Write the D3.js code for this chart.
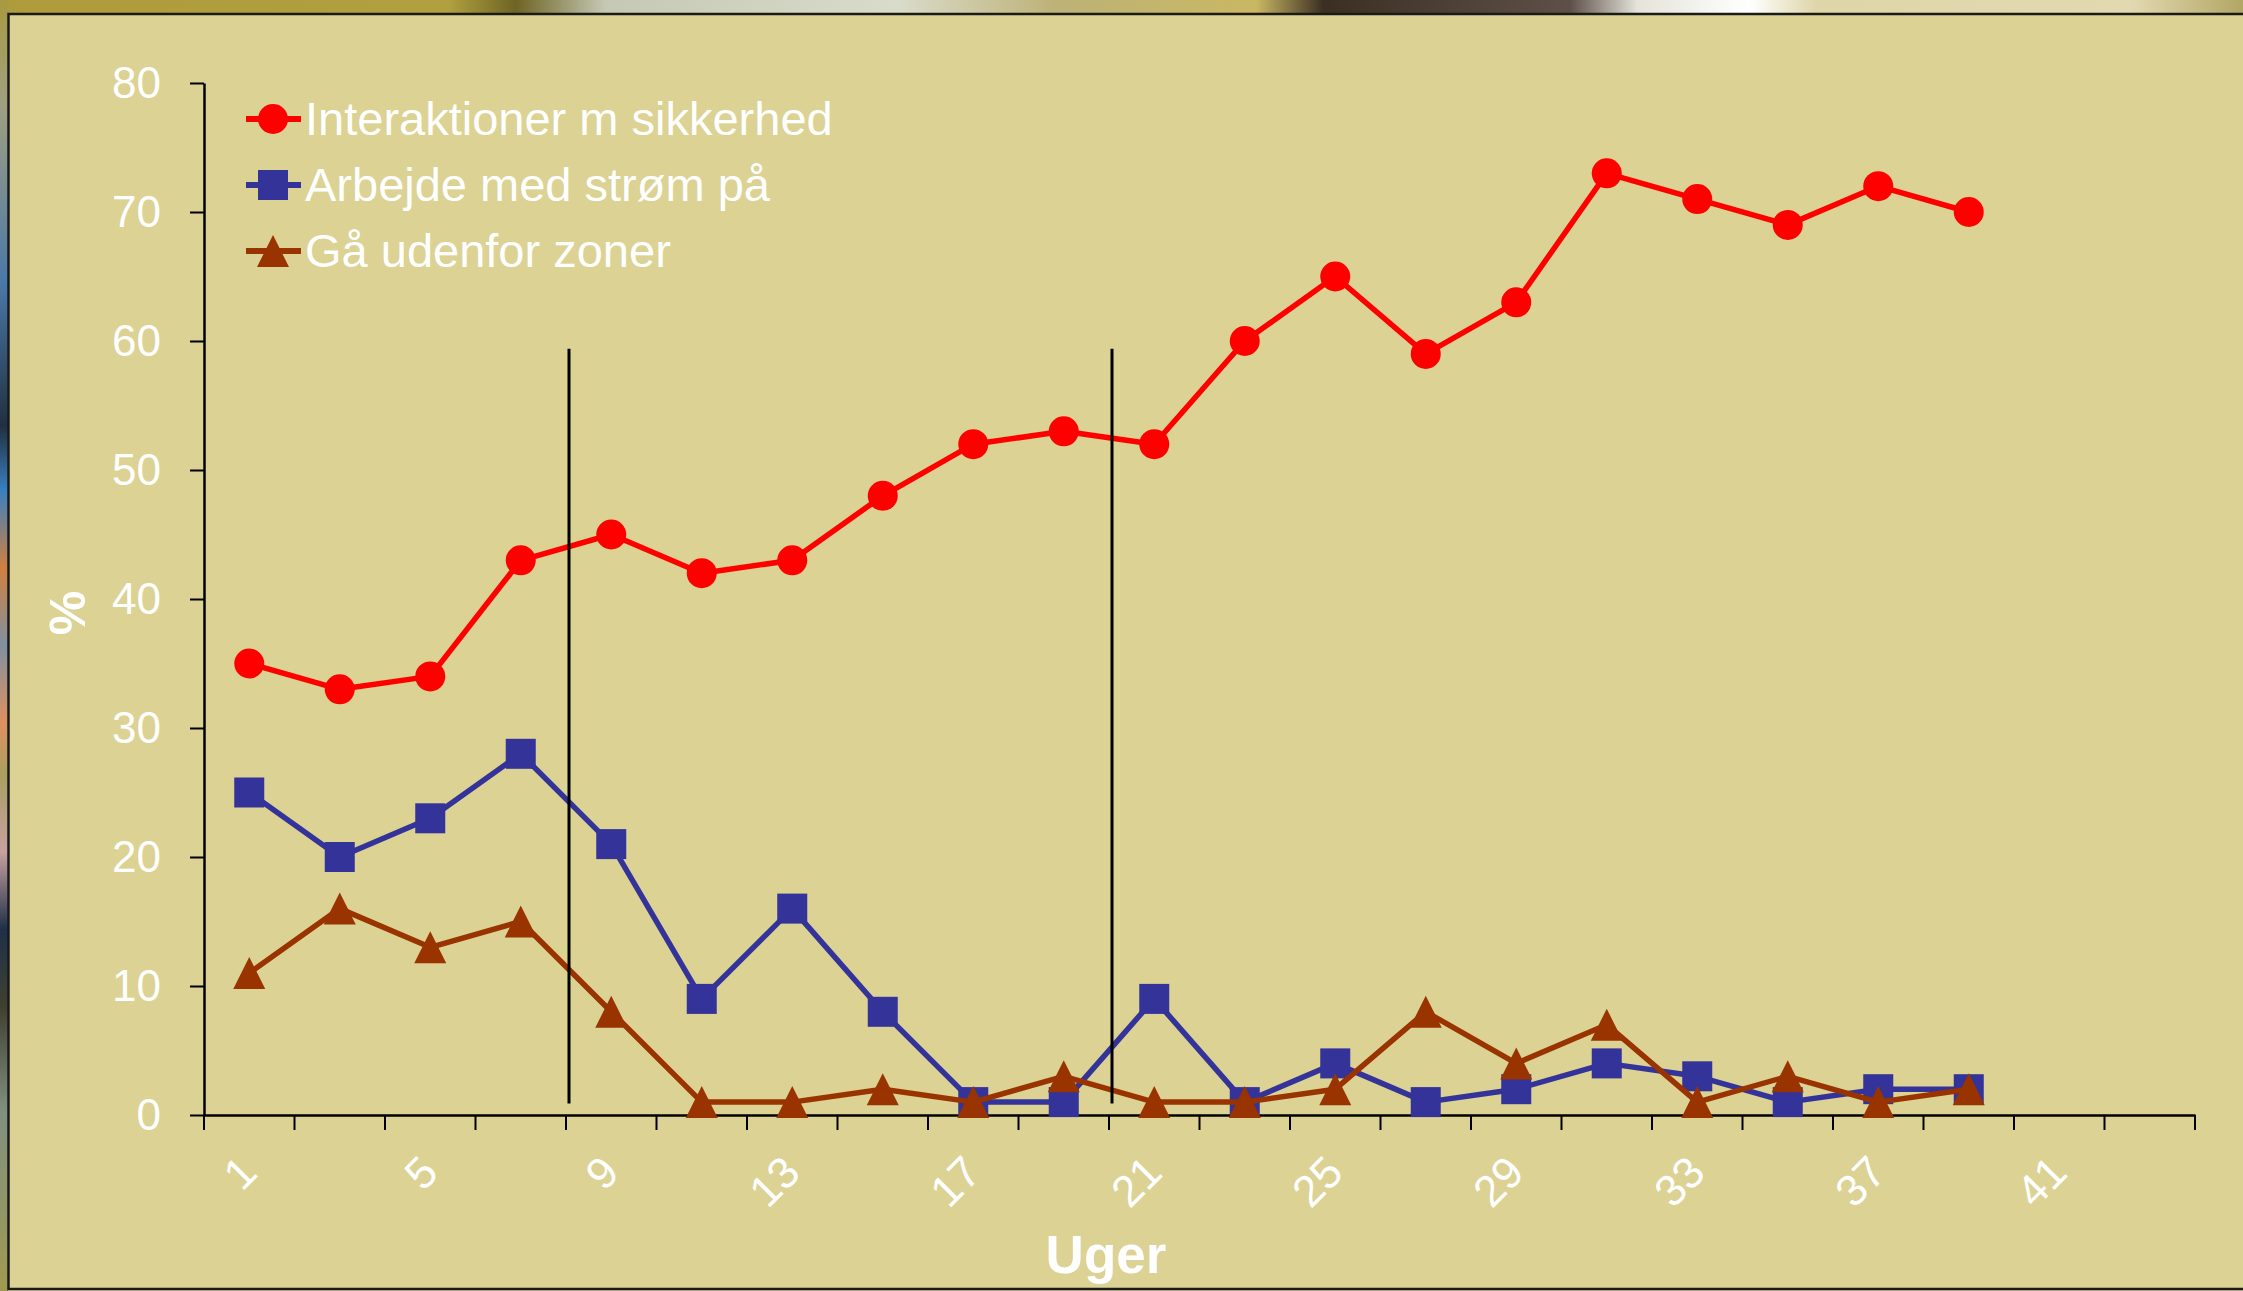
<!DOCTYPE html>
<html>
<head>
<meta charset="utf-8">
<script src="https://cdn.jsdelivr.net/npm/d3@7"></script>
<style>
  body { margin: 0; background: #dbd294; }
  svg { display: block; }
  text { font-family: "Liberation Sans", Arial, sans-serif; fill: #fff; }
</style>
</head>
<body>
<div id="chart"></div>
<script>
// Week categories (every second week), only every other one is labelled
const weeks = [1, 3, 5, 7, 9, 11, 13, 15, 17, 19, 21, 23, 25, 27, 29, 31, 33, 35, 37, 39, 41, 43];
const weekLabels = [1, 5, 9, 13, 17, 21, 25, 29, 33, 37, 41];
const yTicks = [0, 10, 20, 30, 40, 50, 60, 70, 80];

// Series values (%), one per week from week 1 to week 39
const interaktioner = [35, 33, 34, 43, 45, 42, 43, 48, 52, 53, 52, 60, 65, 59, 63, 73, 71, 69, 72, 70];
const stroemPaa     = [25, 20, 23, 28, 21, 9, 16, 8, 1, 1, 9, 1, 4, 1, 2, 4, 3, 1, 2, 2];
const udenforZoner  = [11, 16, 13, 15, 8, 1, 1, 2, 1, 3, 1, 1, 2, 8, 4, 7, 1, 3, 1, 2];

const seriesNames = ["Interaktioner m sikkerhed", "Arbejde med strøm på", "Gå udenfor zoner"];

// Weeks where a new phase starts (vertical divider lines)
const phaseStarts = [9, 21];
const phaseLineRange = [0.9, 59.4];

const W = 2243, H = 1291;
const plot = { left: 204, right: 2195, top: 83, bottom: 1115 };

const svg = d3.select("#chart").append("svg")
  .attr("width", W)
  .attr("height", H);

// photo strips peeking out behind the chart (top and left)
const defs = svg.append("defs");
const gTop = defs.append("linearGradient").attr("id", "stripTop");
[[0, "#ae9b3c"], [0.2, "#b0a040"], [0.23, "#6e6424"], [0.27, "#c5c8b4"], [0.4, "#dadccb"],
 [0.47, "#bdb277"], [0.56, "#c9b862"], [0.59, "#3b2f23"], [0.7, "#5e5048"], [0.73, "#e4e4da"],
 [0.78, "#ffffff"], [0.81, "#ded5a8"], [0.95, "#e2d9b0"], [1, "#b2a664"]]
  .forEach(s => gTop.append("stop").attr("offset", s[0]).attr("stop-color", s[1]));
const gLeft = defs.append("linearGradient").attr("id", "stripLeft")
  .attr("x1", 0).attr("y1", 0).attr("x2", 0).attr("y2", 1);
[[0, "#a89a40"], [0.08, "#a0a080"], [0.22, "#4a78a8"], [0.33, "#203040"], [0.38, "#3a80c0"],
 [0.44, "#d08040"], [0.5, "#8090a0"], [0.56, "#e09060"], [0.6, "#a8a060"], [0.66, "#c8a0a0"],
 [0.72, "#1e3048"], [0.78, "#404030"], [0.86, "#809080"], [1, "#a09a50"]]
  .forEach(s => gLeft.append("stop").attr("offset", s[0]).attr("stop-color", s[1]));

svg.append("rect").attr("width", W).attr("height", 14).attr("fill", "url(#stripTop)");
svg.append("rect").attr("width", 8).attr("height", H).attr("fill", "url(#stripLeft)");

// chart panel
svg.append("rect")
  .attr("x", 8.5).attr("y", 14)
  .attr("width", W).attr("height", H - 16)
  .attr("fill", "#dbd294")
  .attr("stroke", "#1a1a1a")
  .attr("stroke-width", 2.5);

// scales
const x = d3.scaleBand().domain(weeks).range([plot.left, plot.right]).padding(0);
const cx = w => x(w) + x.bandwidth() / 2;
const y = d3.scaleLinear().domain([0, 80]).range([plot.bottom, plot.top]);

// y axis
const yAxis = svg.append("g")
  .attr("transform", `translate(${plot.left},0)`)
  .call(d3.axisLeft(y).tickValues(yTicks).tickSize(14).tickSizeOuter(0).tickPadding(29));
yAxis.selectAll("text").style("font-size", "44px").attr("fill", "#fff");

// x axis: line + boundary ticks + rotated labels
const xAxis = svg.append("g")
  .attr("transform", `translate(0,${plot.bottom})`)
  .call(d3.axisBottom(x).tickValues(weekLabels).tickSize(0).tickSizeOuter(0));
xAxis.selectAll(".tick text")
  .attr("y", 0).attr("dy", 0)
  .attr("text-anchor", "end")
  .attr("transform", "translate(10,60) rotate(-45)")
  .style("font-size", "44px")
  .attr("fill", "#fff");

const edges = weeks.map(w => x(w)).concat([plot.right]);
xAxis.selectAll(".edge")
  .data(edges)
  .enter().append("line")
  .attr("class", "edge")
  .attr("x1", d => d).attr("x2", d => d)
  .attr("y1", 0).attr("y2", 15)
  .attr("stroke", "#000").attr("stroke-width", 2);

svg.selectAll(".domain, .tick line").attr("stroke", "#000").attr("stroke-width", 2.5);
yAxis.selectAll(".tick line").attr("stroke-width", 2);

// axis titles
svg.append("text")
  .attr("x", 1106).attr("y", 1273)
  .attr("text-anchor", "middle")
  .style("font-size", "53px").style("font-weight", "bold")
  .text("Uger");

svg.append("text")
  .attr("transform", "translate(85,613) rotate(-90)")
  .attr("text-anchor", "middle")
  .style("font-size", "50px").style("font-weight", "bold")
  .text("%");

// markers
const markerDraw = {
  circle: (sel, c) => sel.append("circle").attr("r", 15).attr("fill", c),
  square: (sel, c) => sel.append("rect").attr("x", -15).attr("y", -15)
    .attr("width", 30).attr("height", 30).attr("fill", c),
  triangle: (sel, c) => sel.append("path").attr("d", "M0,-16L16,16L-16,16Z").attr("fill", c)
};

const series = [
  { name: seriesNames[0], values: interaktioner, color: "#ff0000", marker: "circle" },
  { name: seriesNames[1], values: stroemPaa, color: "#333399", marker: "square" },
  { name: seriesNames[2], values: udenforZoner, color: "#993300", marker: "triangle" }
];

const line = d3.line()
  .x((d, i) => cx(weeks[i]))
  .y(d => y(d));

series.forEach(s => {
  const g = svg.append("g");
  g.append("path")
    .datum(s.values)
    .attr("fill", "none")
    .attr("stroke", s.color)
    .attr("stroke-width", 5.5)
    .attr("stroke-linejoin", "round")
    .attr("d", line);
  g.selectAll(".pt")
    .data(s.values)
    .enter().append("g")
    .attr("transform", (d, i) => `translate(${cx(weeks[i])},${y(d)})`)
    .each(function() { markerDraw[s.marker](d3.select(this), s.color); });
});

// phase divider lines
svg.selectAll(".phase")
  .data(phaseStarts)
  .enter().append("line")
  .attr("x1", d => x(d) + 3).attr("x2", d => x(d) + 3)
  .attr("y1", y(phaseLineRange[1])).attr("y2", y(phaseLineRange[0]))
  .attr("stroke", "#000").attr("stroke-width", 3);

// legend
const legend = svg.append("g").attr("transform", "translate(246,119)");
series.forEach((s, i) => {
  const item = legend.append("g").attr("transform", `translate(0,${i * 66})`);
  item.append("line")
    .attr("x1", 0).attr("x2", 55)
    .attr("stroke", s.color).attr("stroke-width", 6);
  markerDraw[s.marker](item.append("g").attr("transform", "translate(27,0)"), s.color);
  item.append("text")
    .attr("x", 59).attr("y", 0).attr("dy", "0.35em")
    .style("font-size", "47px")
    .text(s.name);
});
</script>
</body>
</html>
